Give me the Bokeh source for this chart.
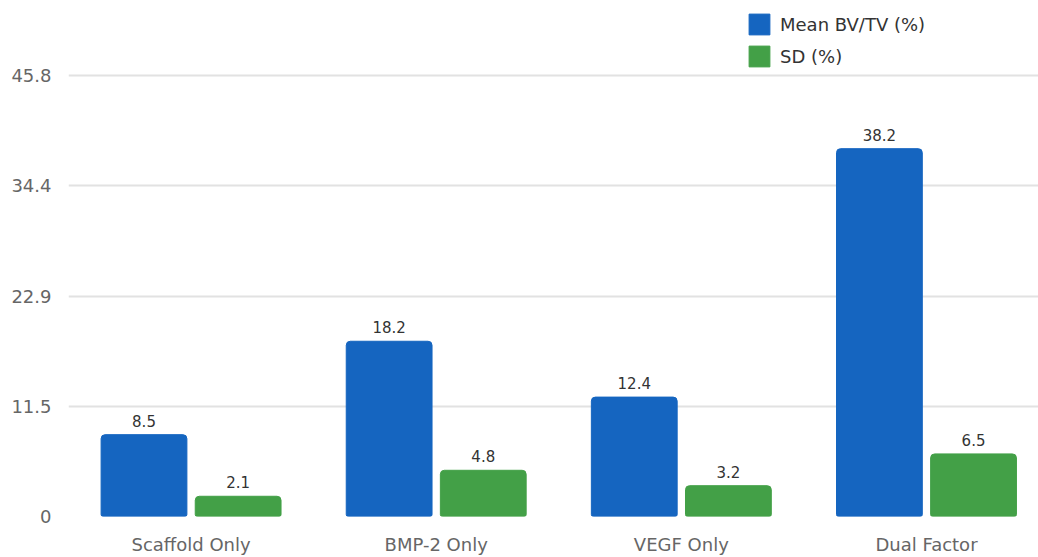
from bokeh.plotting import figure
from bokeh.models import ColumnDataSource, Range1d, FixedTicker, Legend, LegendItem
from bokeh.transform import dodge
from bokeh.core.properties import value
from bokeh.embed import file_html
from bokeh.resources import INLINE

categories = ["Scaffold Only", "BMP-2 Only", "VEGF Only", "Dual Factor"]
mean_bvtv = [8.5, 18.2, 12.4, 38.2]
sd_vals = [2.1, 4.8, 3.2, 6.5]
y_ticks = [0, 11.45, 22.9, 34.35, 45.8]
y_tick_labels = ["0", "11.5", "22.9", "34.4", "45.8"]

BLUE = "#1565C0"
GREEN = "#43A047"
FONT = "DejaVu Sans"

idx = list(range(len(categories)))
src = ColumnDataSource(dict(
    x=idx, mean=mean_bvtv, sd=sd_vals,
    mean_lbl=[f"{v:.1f}" for v in mean_bvtv],
    sd_lbl=[f"{v:.1f}" for v in sd_vals],
))

p = figure(width=1038, height=557, output_backend="svg", toolbar_location=None,
           x_range=Range1d(-0.5, 3.457), y_range=Range1d(0, 53.59),
           min_border_left=68, min_border_right=0, min_border_top=0, min_border_bottom=41)
p.outline_line_color = None
p.background_fill_color = "white"
p.border_fill_color = "white"

off = 0.192
w = 0.35
b1 = p.vbar(x=dodge("x", -off, range=p.x_range), top="mean", width=w, source=src,
            fill_color=BLUE, line_color=BLUE, line_width=1, border_radius=(4, 4, 2, 2))
b2 = p.vbar(x=dodge("x", off, range=p.x_range), top="sd", width=w, source=src,
            fill_color=GREEN, line_color=GREEN, line_width=1, border_radius=(4, 4, 2, 2))

p.text(x=dodge("x", -off, range=p.x_range), y="mean", text="mean_lbl", source=src,
       text_align="center", text_baseline="alphabetic", y_offset=-14,
       text_font=value(FONT), text_font_size="15px", text_color="#333333")
p.text(x=dodge("x", off, range=p.x_range), y="sd", text="sd_lbl", source=src,
       text_align="center", text_baseline="alphabetic", y_offset=-14,
       text_font=value(FONT), text_font_size="15px", text_color="#333333")

# axes
p.xaxis.ticker = FixedTicker(ticks=idx)
p.xaxis.major_label_overrides = {i: c for i, c in zip(idx, categories)}
p.yaxis.ticker = FixedTicker(ticks=y_ticks)
p.yaxis.major_label_overrides = {t: l for t, l in zip(y_ticks, y_tick_labels)}
for ax in (p.xaxis, p.yaxis):
    ax.axis_line_color = None
    ax.major_tick_line_color = None
    ax.minor_tick_line_color = None
    ax.major_tick_out = 0
    ax.major_tick_in = 0
    ax.major_label_text_font = FONT
    ax.major_label_text_font_size = "18px"
    ax.major_label_text_color = "#666666"
p.yaxis.major_label_standoff = 17
p.xaxis.major_label_standoff = 17

p.xgrid.grid_line_color = None
p.ygrid.grid_line_color = "#e2e2e2"
p.ygrid.grid_line_width = 2

legend = Legend(items=[LegendItem(label="Mean BV/TV (%)", renderers=[b1]),
                       LegendItem(label="SD (%)", renderers=[b2])],
                location=(678, 447), orientation="vertical",
                glyph_width=26, glyph_height=26, label_height=26,
                label_standoff=8, spacing=6, padding=0, margin=0,
                label_text_font=FONT, label_text_font_size="18px",
                label_text_color="#333333",
                background_fill_alpha=0, border_line_color=None)
p.add_layout(legend, "center")

open("out.html", "w").write(file_html(p, INLINE))
